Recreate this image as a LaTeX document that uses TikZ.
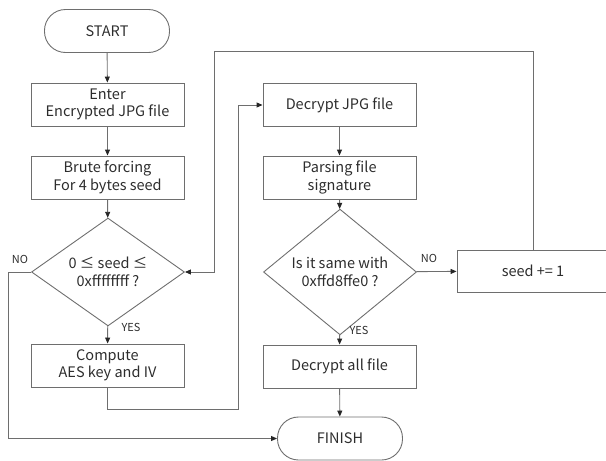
\documentclass[tikz,border=0pt]{standalone}
\usepackage{fontspec}
\setmainfont{Noto Sans CJK KR}
\usetikzlibrary{arrows.meta, shapes.geometric}
\definecolor{linegray}{RGB}{110,110,110}
\definecolor{textgray}{RGB}{45,45,45}

\tikzset{
  procbox/.style={draw=linegray, line width=0.9pt, text=textgray, minimum width=153pt, minimum height=43pt, inner sep=1pt, align=center, font=\fontsize{14.5}{17.5}\selectfont},
  termbox/.style={procbox, minimum width=125pt, rounded corners=21pt},
  decbox/.style={diamond, draw=linegray, line width=0.9pt, text=textgray, minimum width=153pt, minimum height=90pt, inner sep=0pt, align=center, font=\fontsize{14.5}{17.5}\selectfont},
  flow/.style={draw=linegray, line width=0.9pt, -{Triangle[length=6pt, width=5pt, color=black!85]}},
  tag/.style={text=textgray, font=\fontsize{11}{12}\selectfont}
}

\begin{document}
\begin{tikzpicture}[x=1pt, y=-1pt]
  \useasboundingbox (0,0) rectangle (606,461);

  % left column
  \node[termbox] (start) at (107,31) {START};
  \node[procbox] (enter) at (107.5,104.5) {Enter\\Encrypted JPG file};
  \node[procbox] (brute) at (107.5,177.5) {Brute forcing\\For 4 bytes seed};
  \node[decbox] (check) at (108,272) {0 ≤ seed ≤\\0xffffffff ?};
  \node[procbox] (compute) at (107.5,365.5) {Compute\\AES key and IV};

  % right column
  \node[procbox] (decrypt) at (339.5,105) {Decrypt JPG file};
  \node[procbox] (parse) at (339.5,177.5) {Parsing file\\signature};
  \node[decbox] (same) at (340,272) {Is it same with\\0xffd8ffe0 ?};
  \node[procbox, minimum height=42pt, minimum width=152pt] (inc) at (533,271) {seed += 1};
  \node[procbox] (all) at (339.5,366.5) {Decrypt all file};
  \node[termbox] (finish) at (340,438.5) {FINISH};

  % corner points of the long connectors
  \coordinate (jn) at (238,409);
  \coordinate (nol) at (8,272);
  \coordinate (lt) at (214,51);

  \draw[flow] (start) -- (enter);
  \draw[flow] (enter) -- (brute);
  \draw[flow] (brute) -- (check);
  \draw[flow] (check) -- (compute);
  \draw[flow] (compute.south) |- (jn) |- (decrypt.west);
  \draw[flow] (check.west) -- (nol) |- (finish.west);
  \draw[flow] (decrypt) -- (parse);
  \draw[flow] (parse) -- (same);
  \draw[flow] (same) -- (inc);
  \draw[flow] (inc.north) |- (lt) |- (check.east);
  \draw[flow] (same) -- (all);
  \draw[flow] (all) -- (finish);

  \node[tag] (no1) at (20,259) {NO};
  \node[tag] (yes1) at (131,327) {YES};
  \node[tag] (no2) at (429,258) {NO};
  \node[tag] (yes2) at (359,330) {YES};
\end{tikzpicture}
\end{document}
